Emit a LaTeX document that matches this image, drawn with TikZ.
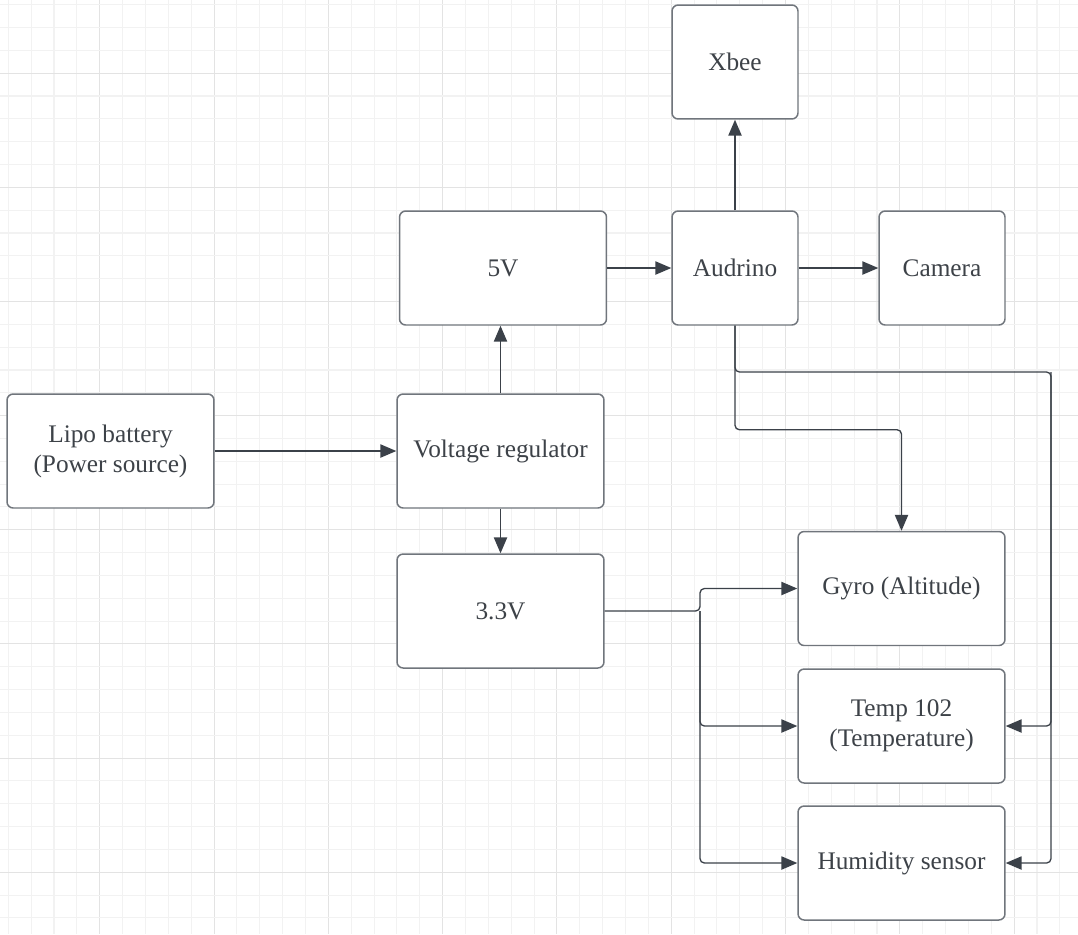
\documentclass[tikz,border=0pt]{standalone}
\usepackage{fontspec}
\setmainfont{Liberation Serif}
\usepackage{tikz}
\usetikzlibrary{arrows.meta,positioning}
\definecolor{boxline}{HTML}{70757C}
\definecolor{wire}{HTML}{3B4149}
\definecolor{txt}{HTML}{3D4248}
\definecolor{gridminor}{HTML}{F2F2F2}
\definecolor{gridmajor}{HTML}{E3E3E3}

\begin{document}
\begin{tikzpicture}[x=0.02cm,y=-0.02cm,->,>={Triangle[length=9pt,width=7.5pt]},rounded corners=2.5pt]
		\tikzstyle{block}=[rectangle, rounded corners=3.5pt, draw=boxline, fill=white, text=txt, line width=0.85pt, align=center, font=\fontsize{14.4}{17}\selectfont]
		\tikzstyle{small}=[block, minimum width=2.52cm, minimum height=2.28cm]
		\tikzstyle{wide}=[block, minimum width=4.14cm, minimum height=2.28cm]
		\tikzstyle{every edge}=[draw=wire, line width=0.75pt]
		
		% background and grid
		\fill[white] (0,0) rectangle (1078,934);
		\useasboundingbox (0,0) rectangle (1078,934);
		\foreach \k in {0,...,46}{
			\pgfmathsetmacro{\gx}{8.3+22.86*\k}
			\pgfmathtruncatemacro{\m}{mod(\k,5)}
			\ifnum\m=4 \draw[-,gridmajor,line width=0.6pt] (\gx,0) -- (\gx,934);
			\else \draw[-,gridminor,line width=0.6pt] (\gx,0) -- (\gx,934); \fi
		}
		\foreach \k in {0,...,40}{
			\pgfmathsetmacro{\gy}{4.7+22.83*\k}
			\pgfmathtruncatemacro{\m}{mod(\k,5)}
			\ifnum\m=3 \draw[-,gridmajor,line width=0.6pt] (0,\gy) -- (1078,\gy);
			\else \draw[-,gridminor,line width=0.6pt] (0,\gy) -- (1078,\gy); \fi
		}
		
		\node[wide]  (1) at (110.5,451) {Lipo battery\\(Power source)};
		\node[wide]  (2) at (500.5,451) {Voltage regulator};
		\node[wide]  (3) at (503,268)   {5V};
		\node[small] (4) at (735,268)   {Audrino};
		\node[small] (5) at (735,62)    {Xbee};
		\node[small] (6) at (942,268)   {Camera};
		\node[wide]  (7) at (500.5,611) {3.3V};
		\node[wide]  (8) at (901.5,588.5) {Gyro (Altitude)};
		\node[wide]  (9) at (901.5,726) {Temp 102\\(Temperature)};
		\node[wide]  (10) at (901.5,863) {Humidity sensor};
		
		\coordinate (b) at (1051,372);
		\coordinate (c) at (700,611);
		
		\path (1) edge (2);
		\path (2.north) edge (2.north |- 3.south);
		\path (2.south) edge (7.north);
		\path (3) edge (4);
		\path (4) edge (6);
		\path (4) edge (5);
		\draw[wire, line width=0.75pt] (4.south) -- ++(0,104) -| (8.north);
		\draw[wire, line width=0.75pt] (4.south) |- (b) |- (10.east);
		\draw[wire, line width=0.75pt] (b) |- (9.east);
		\draw[wire, line width=0.75pt] (7.east) -- (c) |- (8.west);
		\draw[wire, line width=0.75pt] (c) |- (9.west);
		\draw[wire, line width=0.75pt] (c) |- (10.west);
		\end{tikzpicture}
\end{document}
